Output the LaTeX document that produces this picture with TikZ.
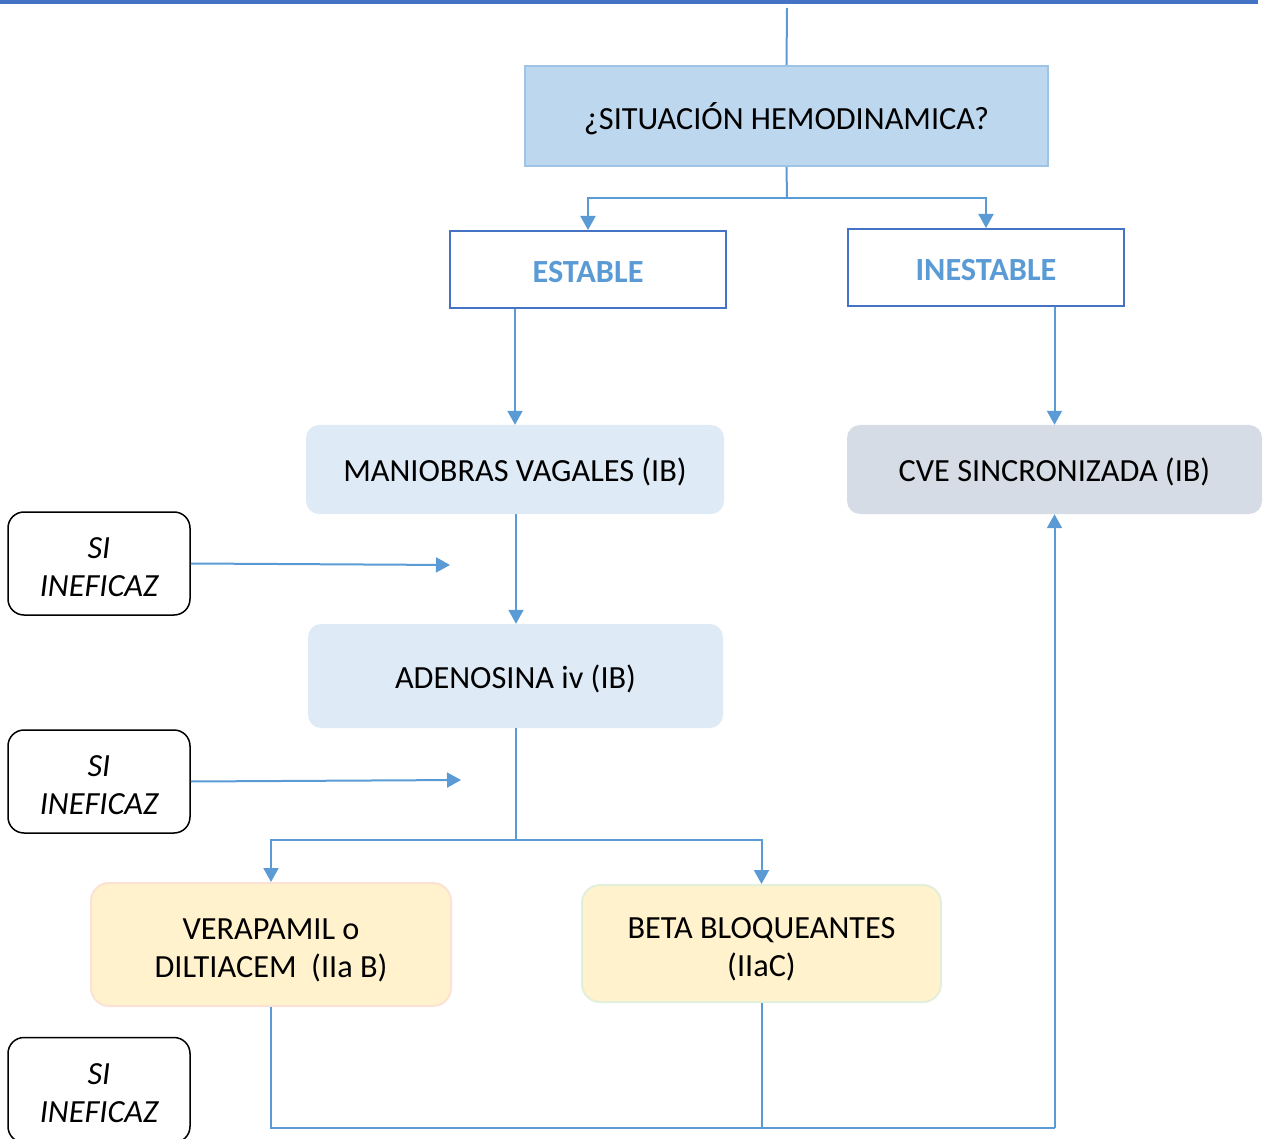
\documentclass[tikz,border=0pt]{standalone}
\usepackage{fontspec}
\setmainfont{Carlito}
\usetikzlibrary{arrows.meta,calc}
\definecolor{barblue}{HTML}{4472C4}
\definecolor{lineblue}{HTML}{5B9BD5}
\definecolor{hemofill}{HTML}{BDD7EE}
\definecolor{hemoedge}{HTML}{9DC3E6}
\definecolor{lightfill}{HTML}{DEEAF6}
\definecolor{greyfill}{HTML}{D6DCE5}
\definecolor{yellowfill}{HTML}{FFF2CC}
\definecolor{pinkedge}{HTML}{FBE2D5}
\definecolor{greenedge}{HTML}{E2EFDA}
\newcommand{\lowr}[1]{\raisebox{-2.5pt}[\height][\depth]{#1}}
\newcommand{\twolines}[2]{\raisebox{-6pt}[\height][\depth]{\begin{tabular}{@{}c@{}}#1\\#2\end{tabular}}}
\tikzset{
  x=1pt,y=-1pt,
  every node/.style={font=\fontsize{32.3}{38}\selectfont, align=center, inner sep=0pt},
  hemobox/.style={rectangle, fill=hemofill, draw=hemoedge, line width=2pt, minimum width=523pt, minimum height=100pt},
  statebox/.style={rectangle, fill=white, draw=barblue, line width=2pt, minimum width=276pt, minimum height=77pt, text=lineblue, font=\fontsize{32.3}{38}\selectfont\bfseries},
  softbox/.style={rectangle, rounded corners=13pt, draw=none},
  sibox/.style={rectangle, rounded corners=16pt, draw=black, line width=1.5pt, fill=white, minimum width=182pt, minimum height=103pt, font=\fontsize{32.3}{38}\selectfont\itshape},
  conn/.style={draw=lineblue, line width=2pt},
  arr/.style={conn, -{Triangle[width=15pt,length=14pt]}}
}
\begin{document}
\begin{tikzpicture}
\useasboundingbox (0,0) rectangle (1267,1139);
% top bar
\coordinate (barL) at (0,2);
\coordinate (barR) at (1258,2);
\draw[barblue, line width=4pt] (barL) -- (barR);
\coordinate (topin) at (787,8);

\node[hemobox] (hemo) at (786.5,116) {\lowr{¿SITUACIÓN HEMODINAMICA?}};
\node[statebox] (est) at (588,269.5) {\lowr{ESTABLE}};
\node[statebox] (inest) at (986,267.5) {\lowr{INESTABLE}};
\node[softbox, fill=lightfill, minimum width=418pt, minimum height=89pt] (mani) at (515,469.5) {\lowr{MANIOBRAS VAGALES (IB)}};
\node[softbox, fill=greyfill, minimum width=415pt, minimum height=89pt] (cve) at (1054.5,469.5) {\lowr{CVE SINCRONIZADA (IB)}};
\node[softbox, fill=lightfill, minimum width=415pt, minimum height=104pt] (aden) at (515.5,676) {\lowr{ADENOSINA iv (IB)}};
\node[softbox, rounded corners=18pt, fill=yellowfill, draw=pinkedge, line width=2pt, minimum width=360pt, minimum height=123pt] (verap) at (271,944.5) {\twolines{VERAPAMIL o}{DILTIACEM~~(IIa B)}};
\node[softbox, rounded corners=18pt, fill=yellowfill, draw=greenedge, line width=2pt, minimum width=359pt, minimum height=117pt] (beta) at (761.5,943.5) {\twolines{BETA BLOQUEANTES}{(IIaC)}};
\node[sibox] (si1) at (99,563.5) {\twolines{SI}{INEFICAZ}};
\node[sibox] (si2) at (99,781.5) {\twolines{SI}{INEFICAZ}};
\node[sibox, minimum height=105pt] (si3) at (99,1090) {\twolines{SI}{INEFICAZ}};

% connectors
\draw[conn] (topin) -- (hemo.north);
\coordinate (j1) at (787,198);
\draw[conn] (hemo.south) -- (j1);
\draw[arr] (j1) -| (est.north);
\draw[arr] (j1) -| (inest.north);
\draw[arr] (est.south -| mani.north) -- (mani.north);
\draw[arr] (inest.south -| cve.north) -- (cve.north);
\draw[arr] (mani.south -| 516,0) -- (aden.north -| 516,0);
\coordinate (t1) at (450,565);
\coordinate (t2) at (461,780);
\draw[arr] (si1.east) -- (t1);
\draw[arr] (si2.east) -- (t2);
\coordinate (j2) at (516,840);
\draw[conn] (aden.south -| j2) -- (j2);
\draw[arr] (j2) -| (verap.north);
\draw[arr] (j2) -| (beta.north);
\coordinate (j3) at (1054.5,1128);
\draw[conn] (verap.south) |- (j3);
\draw[conn] (beta.south) -- (beta.south |- j3);
\draw[arr] (j3) -- (cve.south);
\end{tikzpicture}
\end{document}
